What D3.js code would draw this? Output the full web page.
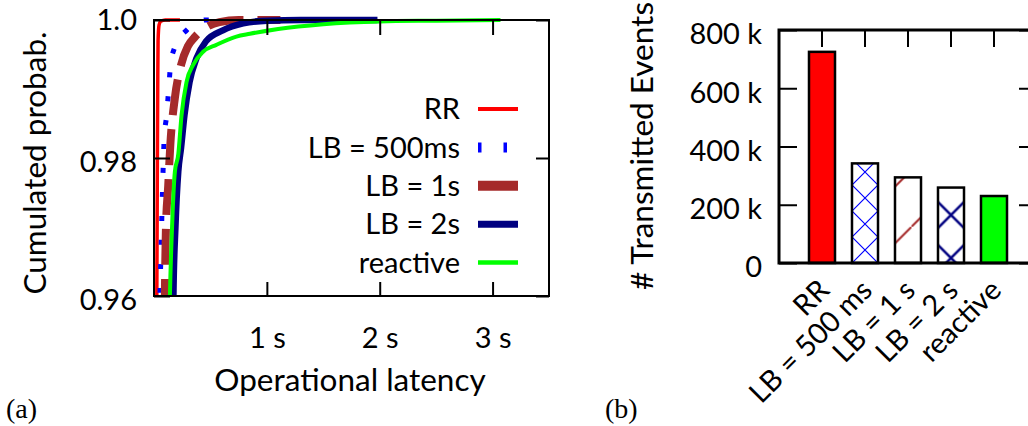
<!DOCTYPE html>
<html><head><meta charset="utf-8">
<script src="https://cdn.jsdelivr.net/npm/d3@7"></script>
<style>body{margin:0;background:#fff}</style>
</head><body>
<svg id="c" width="1028" height="426"></svg>
<script>
// ---------- data: panel (a) CDFs [latency s, cumulated probability] ----------
const latencyTicks = [1, 2, 3];
const probTicks = [0.96, 0.98, 1.0];
const seriesNames = ["RR", "LB = 500ms", "LB = 1s", "LB = 2s", "reactive"];
const rrCdf = [[0.02,0.95],[0.025,0.96],[0.03,0.98],[0.033,0.99],[0.036,0.997],[0.045,0.9993],[0.06,0.9998],[0.1,1.0],[0.23,1.0]];
const lb500Cdf = [[0.05,0.95],[0.053,0.96],[0.06,0.965],[0.068,0.9705],[0.075,0.975],[0.082,0.979],[0.09,0.9828],[0.112,0.9862],[0.13,0.99],[0.147,0.9935],[0.185,0.9961],[0.23,0.9975],[0.288,0.9985],[0.36,0.9995],[0.45,1.0],[0.7,1.0]];
const lb1sCdf = [[0.09,0.95],[0.097,0.961],[0.1,0.965],[0.106,0.97],[0.126,0.976],[0.135,0.979],[0.145,0.982],[0.185,0.9887],[0.24,0.9935],[0.3,0.9962],[0.36,0.9975],[0.45,0.9988],[0.58,0.9997],[0.75,1.0],[1.12,1.0]];
const lb2sCdf = [[0.165,0.95],[0.172,0.96],[0.19,0.97],[0.215,0.978],[0.24,0.9815],[0.27,0.9862],[0.315,0.991],[0.375,0.9944],[0.46,0.9969],[0.61,0.9985],[0.79,0.9995],[1.0,0.9999],[1.3,1.0],[1.98,1.0]];
const reactiveCdf = [[0.13,0.95],[0.141,0.96],[0.16,0.97],[0.185,0.978],[0.215,0.9805],[0.244,0.9862],[0.288,0.991],[0.347,0.9935],[0.435,0.9954],[0.553,0.9964],[0.73,0.9976],[0.85,0.998],[1.1,0.9987],[1.5,0.9994],[2.0,0.9998],[2.5,0.9999],[3.07,1.0]];

// ---------- data: panel (b) ----------
const barCategories = ["RR", "LB = 500 ms", "LB = 1 s", "LB = 2 s", "reactive"];
const barValues = [725000, 342000, 294000, 259000, 230000];
const eventTicks = [0, 200000, 400000, 600000, 800000];

// ---------- drawing ----------
const FONT = "Lato, 'Open Sans', sans-serif";
const FS = 29;      // tick labels, legend
const FT = 31.5;    // axis titles
const svg = d3.select("#c").attr("font-family", FONT);
const defs = svg.append("defs");

// panel (a)
const xL = d3.scaleLinear().domain([0, 3.5]).range([154, 549]);
const yL = d3.scaleLinear().domain([0.96, 1.0]).range([296, 20]);

defs.append("clipPath").attr("id", "clipA").append("rect")
  .attr("x", xL(0)).attr("y", yL(1) - 10)
  .attr("width", xL(3.5) - xL(0)).attr("height", yL(0.96) - yL(1) + 10);

const styles = [
  {color: "#ff0000", width: 3.5, dash: null,    lw: 4,  ldash: null},
  {color: "#0000ff", width: 5,   dash: "5,19",  lw: 10, ldash: "3.5,22"},
  {color: "#a52a2a", width: 8,   dash: "36,14", lw: 10, ldash: null},
  {color: "#000080", width: 6.5, dash: null,    lw: 7,  ldash: null},
  {color: "#00ff00", width: 4,   dash: null,    lw: 4.5,ldash: null}
];
const allCdfs = [rrCdf, lb500Cdf, lb1sCdf, lb2sCdf, reactiveCdf];

const line = d3.line().x(d => xL(d[0])).y(d => yL(d[1])).curve(d3.curveMonotoneX);
const curves = svg.append("g").attr("clip-path", "url(#clipA)");
allCdfs.forEach((data, i) => {
  curves.append("path").datum(data)
    .attr("d", line).attr("fill", "none")
    .attr("stroke", styles[i].color).attr("stroke-width", styles[i].width)
    .attr("stroke-dasharray", styles[i].dash);
});

// frame (a)
svg.append("rect").attr("x", xL(0)).attr("y", yL(1))
  .attr("width", xL(3.5) - xL(0)).attr("height", yL(0.96) - yL(1))
  .attr("fill", "none").attr("stroke", "#000").attr("stroke-width", 2);

function styleAxis(g) {
  g.select(".domain").remove();
  g.attr("font-family", FONT).attr("font-size", FS);
  g.selectAll(".tick line").attr("stroke", "#000").attr("stroke-width", 2);
  g.selectAll(".tick text").attr("fill", "#000");
}

svg.append("g").attr("transform", `translate(0,${yL(0.96)})`)
  .call(d3.axisBottom(xL).tickValues(latencyTicks).tickSizeInner(-14).tickSizeOuter(0)
        .tickPadding(31).tickFormat(d => d + " s"))
  .call(styleAxis);
svg.append("g").attr("transform", `translate(0,${yL(1)})`)
  .call(d3.axisTop(xL).tickValues(latencyTicks).tickSizeInner(-15).tickSizeOuter(0).tickFormat(""))
  .call(styleAxis);
svg.append("g").attr("transform", `translate(${xL(0)},0)`)
  .call(d3.axisLeft(yL).tickValues(probTicks).tickSizeInner(-16).tickSizeOuter(0).tickPadding(17)
        .tickFormat(d => d === 1 ? "1.0" : d3.format(".2f")(d)))
  .call(styleAxis)
  .call(g => g.selectAll(".tick text").attr("dy", d => d === 1 ? "0.33em" : "0.48em"));
svg.append("g").attr("transform", `translate(${xL(3.5)},0)`)
  .call(d3.axisRight(yL).tickValues(probTicks).tickSizeInner(-13).tickSizeOuter(0).tickFormat(""))
  .call(styleAxis);

// legend (a)
const leg = svg.append("g");
seriesNames.forEach((name, i) => {
  const yy = 109 + 38.4 * i;
  leg.append("text").attr("x", 460).attr("y", yy).attr("dy", "0.35em")
    .attr("text-anchor", "end").attr("font-size", FS).attr("fill", "#000").text(name);
  leg.append("line").attr("x1", 478).attr("x2", 518).attr("y1", yy).attr("y2", yy)
    .attr("stroke", styles[i].color).attr("stroke-width", styles[i].lw)
    .attr("stroke-dasharray", styles[i].ldash);
});

// titles (a)
svg.append("text").attr("transform", "translate(46,163) rotate(-90)")
  .attr("text-anchor", "middle").attr("font-size", FT).attr("fill", "#000").text("Cumulated probab.");
svg.append("text").attr("x", 350).attr("y", 391)
  .attr("text-anchor", "middle").attr("font-size", FT).attr("fill", "#000").text("Operational latency");
svg.append("text").attr("x", 6).attr("y", 418)
  .attr("font-family", "'Liberation Serif', 'DejaVu Serif', serif").attr("font-size", 28)
  .attr("fill", "#000").text("(a)");

// panel (b)
const xB = d3.scaleBand().domain(barCategories).range([800.5, 1015.5])
  .paddingInner(0.395).paddingOuter(0.1975);
const yR = d3.scaleLinear().domain([0, 800000]).range([263, 30]);
const bw = xB.bandwidth();

// patterns
function xPattern(id, cat, size, color, sw, cy) {
  const cx = xB(cat) + bw / 2;
  const p = defs.append("pattern").attr("id", id).attr("patternUnits", "userSpaceOnUse")
    .attr("width", size).attr("height", size)
    .attr("x", cx - size / 2).attr("y", cy - size / 2);
  p.append("rect").attr("width", size).attr("height", size).attr("fill", "#fff");
  p.append("path").attr("d", `M0,0L${size},${size}M${size},0L0,${size}`)
    .attr("stroke", color).attr("stroke-width", sw).attr("fill", "none");
}
xPattern("pat500", "LB = 500 ms", 26, "#0000ff", 1.2, 250);
xPattern("pat2s", "LB = 2 s", 43, "#000080", 2.5, 215);
{
  const s = 56.7;
  const p = defs.append("pattern").attr("id", "pat1s").attr("patternUnits", "userSpaceOnUse")
    .attr("width", s).attr("height", s).attr("x", 4.3).attr("y", 0);
  p.append("rect").attr("width", s).attr("height", s).attr("fill", "#fff");
  p.append("path").attr("d", `M-3,${s + 3}L${s + 3},-3`)
    .attr("stroke", "#a52a2a").attr("stroke-width", 2).attr("fill", "none");
}
const barFills = ["#ff0000", "url(#pat500)", "url(#pat1s)", "url(#pat2s)", "#00ff00"];

svg.append("g").selectAll("rect").data(barCategories).join("rect")
  .attr("x", d => xB(d)).attr("width", bw)
  .attr("y", (d, i) => yR(barValues[i]))
  .attr("height", (d, i) => yR(0) - yR(barValues[i]))
  .attr("fill", (d, i) => barFills[i])
  .attr("stroke", "#000").attr("stroke-width", 2.5);

// frame (b)
svg.append("rect").attr("x", 779).attr("y", yR(800000))
  .attr("width", 258).attr("height", yR(0) - yR(800000))
  .attr("fill", "none").attr("stroke", "#000").attr("stroke-width", 3);

svg.append("g").attr("transform", "translate(779,0)")
  .call(d3.axisLeft(yR).tickValues(eventTicks).tickSizeInner(-18).tickSizeOuter(0).tickPadding(17)
        .tickFormat(d => d === 0 ? "0" : (d / 1000) + " k"))
  .call(styleAxis)
  .call(g => g.selectAll(".tick text").attr("dy", "0.48em"));
svg.append("g").attr("transform", "translate(1037,0)")
  .call(d3.axisRight(yR).tickValues(eventTicks).tickSizeInner(-18).tickSizeOuter(0).tickFormat(""))
  .call(styleAxis);
svg.append("g").attr("transform", `translate(0,${yR(800000)})`)
  .call(d3.axisTop(xB).tickSizeInner(-17).tickSizeOuter(0).tickFormat(""))
  .call(styleAxis);
svg.append("g").attr("transform", `translate(0,${yR(0)})`)
  .call(d3.axisBottom(xB).tickSize(0))
  .call(styleAxis)
  .call(g => g.selectAll(".tick text")
    .attr("x", 0).attr("y", 0).attr("dy", 0)
    .attr("text-anchor", "end")
    .attr("transform", "translate(9,29) rotate(-45)"));

svg.append("text").attr("transform", "translate(653,146) rotate(-90)")
  .attr("text-anchor", "middle").attr("font-size", FT).attr("fill", "#000").text("# Transmitted Events");
svg.append("text").attr("x", 605).attr("y", 418)
  .attr("font-family", "'Liberation Serif', 'DejaVu Serif', serif").attr("font-size", 28)
  .attr("fill", "#000").text("(b)");
</script>
</body></html>
